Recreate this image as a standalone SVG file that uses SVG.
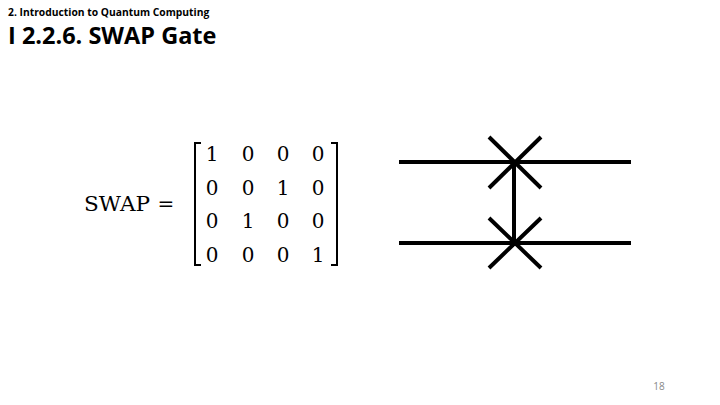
<svg xmlns="http://www.w3.org/2000/svg" width="720" height="405" viewBox="0 0 720 405">
<style>
.m{font-family:"DejaVu Serif","Liberation Serif",serif;font-size:20px;fill:#000;text-anchor:middle}
.w{stroke:#000;stroke-width:4;fill:none}
.b{stroke:#000;stroke-width:2;fill:none}
</style>
<rect width="720" height="405" fill="#fff"/>
<text x="8" y="16" font-family="'Open Sans','Noto Sans',sans-serif" font-size="10.3" font-weight="bold">2. Introduction to Quantum Computing</text>
<text x="8" y="44" font-family="'Open Sans','Noto Sans',sans-serif" font-size="23.5" font-weight="bold">I 2.2.6. SWAP Gate</text>
<g id="matrix">
<text x="84" y="211" font-family="'DejaVu Serif','Liberation Serif',serif" font-size="20" textLength="66" lengthAdjust="spacingAndGlyphs">SWAP</text>
<text x="166" y="211" class="m">=</text>
<path class="b" d="M201,143 H195 V265 H201 M331,143 H337 V265 H331"/>
<g class="m">
<text x="212" y="161">1</text><text x="248" y="161">0</text><text x="283" y="161">0</text><text x="318" y="161">0</text>
<text x="212" y="195">0</text><text x="248" y="195">0</text><text x="283" y="195">1</text><text x="318" y="195">0</text>
<text x="212" y="228">0</text><text x="248" y="228">1</text><text x="283" y="228">0</text><text x="318" y="228">0</text>
<text x="212" y="262">0</text><text x="248" y="262">0</text><text x="283" y="262">0</text><text x="318" y="262">1</text>
</g>
</g>
<g id="circuit">
<path class="w" d="M399,162 H631 M399,243 H631 M514,162 V243"/>
<path class="w" d="M489,137 L541,188 M541,137 L489,188 M489,218 L541,268 M541,218 L489,268"/>
</g>
<text x="659" y="390" font-family="'Open Sans','Noto Sans',sans-serif" font-size="10" fill="#888" text-anchor="middle">18</text>
</svg>
